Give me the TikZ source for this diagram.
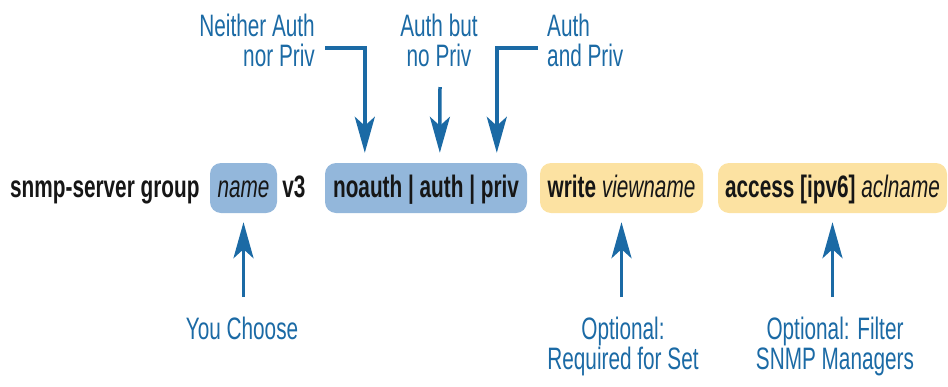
\documentclass[tikz,border=0pt]{standalone}
\usepackage{fontspec}
\setmainfont{Liberation Sans}[FakeStretch=0.67]
\usetikzlibrary{arrows.meta}
\definecolor{ablue}{HTML}{1B6AA5}
\definecolor{boxblue}{HTML}{93B7DB}
\definecolor{boxyel}{HTML}{FCE2A2}
\definecolor{cmdtext}{HTML}{161616}
\tikzset{
  cmd/.style={font=\fontsize{31}{32}\selectfont\bfseries, text=cmdtext, inner sep=0pt, text height=23pt, text depth=5pt},
  cmdbox/.style={cmd, rounded corners=11pt, minimum height=50pt},
  bluebox/.style={cmdbox, fill=boxblue},
  yelbox/.style={cmdbox, fill=boxyel},
  lbl/.style={font=\fontsize{31}{32}\selectfont, text=ablue, inner sep=0pt},
  arr/.style={draw=ablue, line width=3.5pt, line join=miter, -{Stealth[length=36pt,width=20pt,inset=9pt]}}
}
\begin{document}
\begin{tikzpicture}[x=1pt,y=-1pt]
\useasboundingbox (0,0) rectangle (948,386);
% command line
\node[cmd, anchor=west] (cmdA) at (10,188) {snmp-server group};
\node[bluebox, minimum width=67pt] (nm) at (243.5,188) {\mdseries\itshape name};
\node[cmd] (v3) at (294,188) {v3};
\node[bluebox, minimum width=202pt] (sec) at (426,188) {noauth | auth | priv};
\node[yelbox, minimum width=163pt] (wr) at (621.5,188) {write \mdseries\itshape viewname};
\node[yelbox, minimum width=229pt] (acc) at (832.5,188) {access [ipv6] \mdseries\itshape aclname};
% top labels
\node[lbl, anchor=base east] (na1) at (315,36) {Neither Auth};
\node[lbl, anchor=base east] (na2) at (315,66) {nor Priv};
\node[lbl, anchor=base] (ab1) at (439,36) {Auth but};
\node[lbl, anchor=base] (ab2) at (439,66) {no Priv};
\node[lbl, anchor=base west] (ap1) at (547,36) {Auth};
\node[lbl, anchor=base west] (ap2) at (547,66) {and Priv};
% top arrows
\coordinate (t1) at (325,48);
\coordinate (t2) at (440,87);
\coordinate (t3) at (538,48);
\draw[arr, shorten >=10pt] (t1) -| ([xshift=40pt]sec.north west);
\draw[arr, shorten >=10pt] (t2) -- ([xshift=115pt]sec.north west);
\draw[arr, shorten >=10pt] (t3) -| ([xshift=172pt]sec.north west);
% bottom labels
\node[lbl, anchor=base] (yc) at (242,339) {You Choose};
\node[lbl, anchor=base] (op1) at (623,339) {Optional:};
\node[lbl, anchor=base] (op2) at (623,369) {Required for Set};
\node[lbl, anchor=base] (of1) at (835,339) {Optional: Filter};
\node[lbl, anchor=base] (of2) at (835,369) {SNMP Managers};
% bottom arrows
\coordinate (b1) at (243.5,297);
\coordinate (b2) at (621.5,297);
\coordinate (b3) at (832.5,297);
\draw[arr, shorten >=9pt] (b1) -- (nm.south);
\draw[arr, shorten >=9pt] (b2) -- (wr.south);
\draw[arr, shorten >=9pt] (b3) -- (acc.south);
\end{tikzpicture}
\end{document}
